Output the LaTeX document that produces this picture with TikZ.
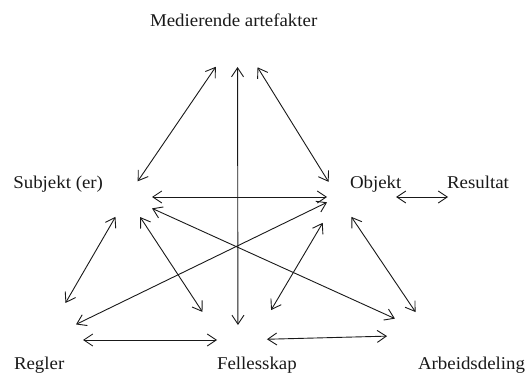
\documentclass[tikz,border=0pt]{standalone}
\usepackage{fontspec}
\setmainfont{Liberation Serif}[FakeStretch=1.05]
\usetikzlibrary{arrows.meta}

\begin{document}
\begin{tikzpicture}[x=1pt,y=-1pt,every node/.style={anchor=base west, inner sep=0pt, outer sep=0pt, font=\fontsize{18}{21}\selectfont, text=black!90},
link/.style={{Straight Barb[length=9pt,width=12pt]}-{Straight Barb[length=9pt,width=12pt]}, line width=0.9pt, draw=black!90}]
\useasboundingbox (0,0) rectangle (525,374);
\node (med) at (150,26.7) {Medierende artefakter};
\node (subj) at (13.3,188.3) {Subjekt (er)};
\node (obj) at (350,188.3) {Objekt};
\node (res) at (447,188.3) {Resultat};
\node (regl) at (14,369.5) {Regler};
\node (fell) at (217,369.5) {Fellesskap};
\node (arb) at (418,369.5) {Arbeidsdeling};
\coordinate (hM) at (237.5,35);
\coordinate (hS) at (127,197);
\coordinate (hO) at (338,197);
\coordinate (hRes) at (476,197);
\coordinate (hR) at (44,340);
\coordinate (hF) at (238,366);
\coordinate (hB) at (238,340);
\coordinate (hA) at (431,335);
\foreach \a/\b/\s/\t in {hM/hS/38.5/19, hM/hO/38/17.8, hM/hF/32/41, hS/hO/25/11, hS/hA/27.5/39.6, hO/hR/12.2/35.6, hS/hR/23/42.8, hS/hF/24/64.7, hO/hF/30/65, hO/hA/24/27.7, hR/hB/39/21, hB/hA/29/44, hO/hRes/58/28} {
\draw[link, shorten <=\s pt, shorten >=\t pt] (\a) -- (\b);
}
\end{tikzpicture}
\end{document}
